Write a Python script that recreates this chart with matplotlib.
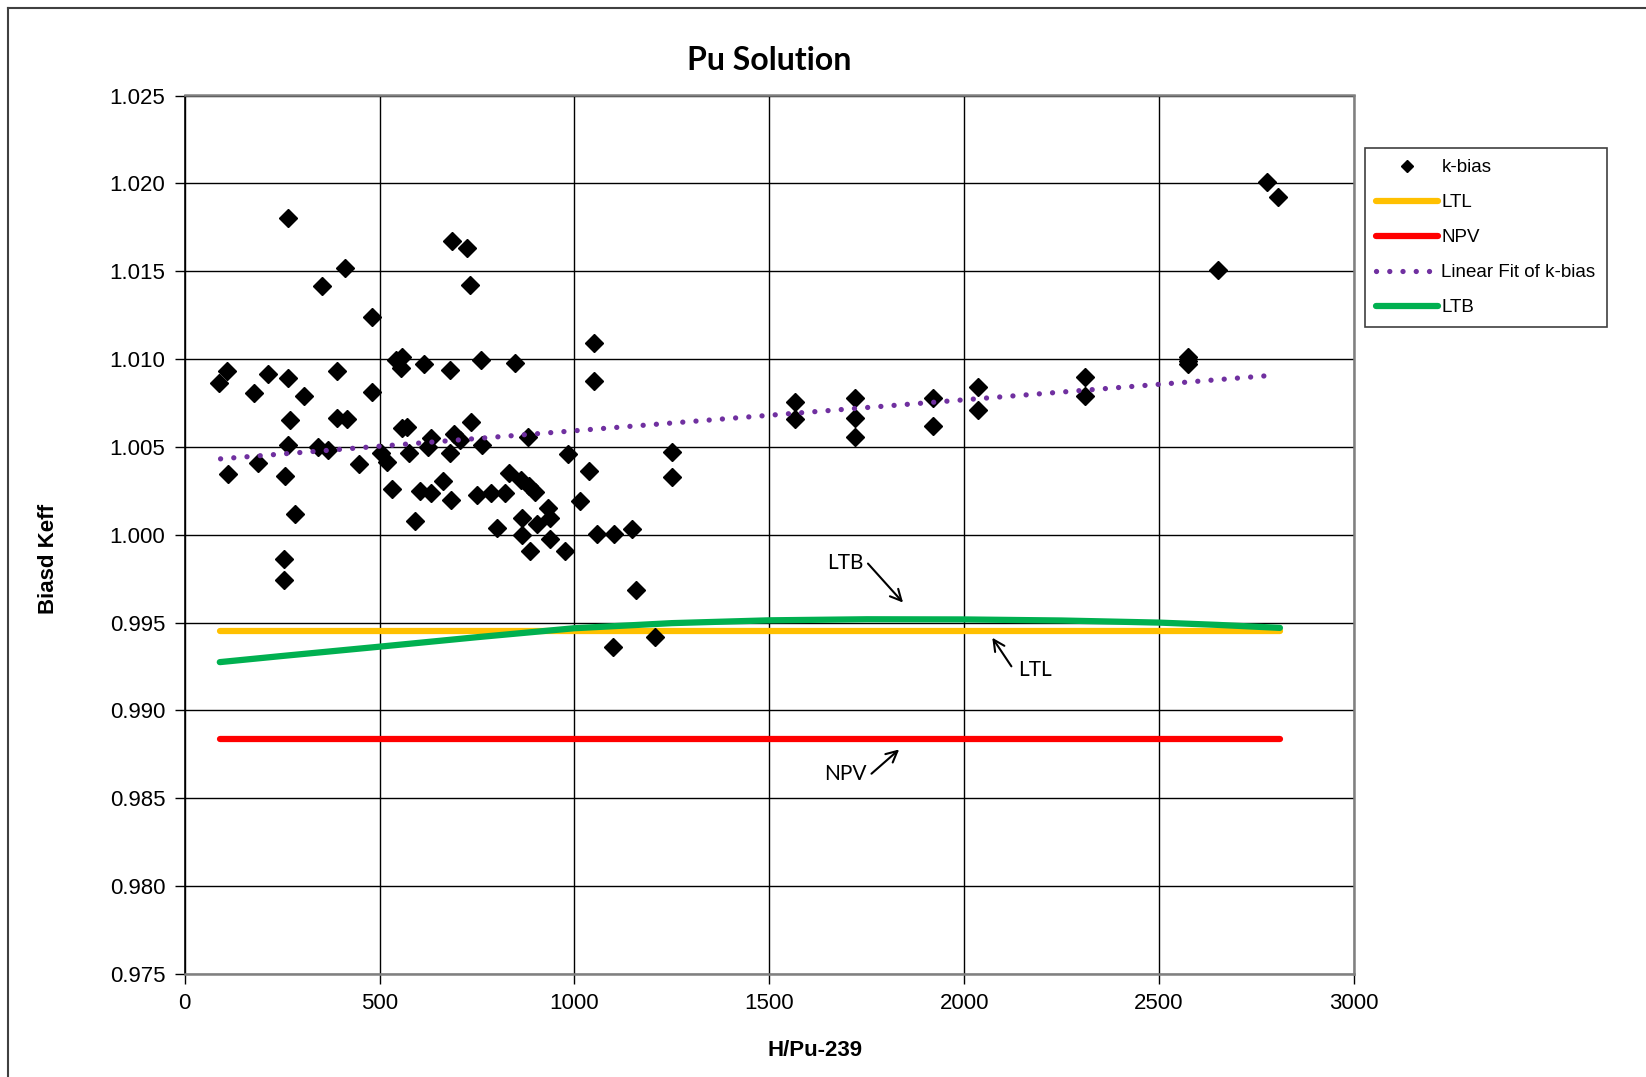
import matplotlib
matplotlib.use("Agg")
import matplotlib.pyplot as plt
from matplotlib.lines import Line2D
import numpy as np

# k-bias points (H/Pu-239, biased keff)
kb_x = [
    88, 108, 110, 177, 188, 213, 256, 256, 258, 264, 264, 264, 269, 283, 306,
    343, 353, 368, 390, 392, 411, 417, 448, 481, 481, 503, 520, 532, 542, 556,
    557, 558, 571, 575, 591, 603, 615, 625, 631, 631, 663, 680, 680, 684, 687,
    691, 706, 724, 732, 735, 751, 761, 763, 786, 802, 823, 831, 847, 863, 866,
    866, 880, 883, 887, 900, 904, 932, 936, 938, 975, 983, 1015, 1037, 1051,
    1051, 1058, 1100, 1101, 1148, 1157, 1206, 1249, 1249,
    1566, 1566, 1720, 1720, 1720, 1921, 1921, 2035, 2035, 2310, 2310,
    2574, 2574, 2574, 2650, 2778, 2804,
]
kb_y = [
    1.00862, 1.00934, 1.00347, 1.00807, 1.00406, 1.00913, 0.99864, 0.99745,
    1.00334, 1.01805, 1.00894, 1.00508, 1.00653, 1.00118, 1.00792,
    1.00498, 1.01415, 1.00483, 1.00934, 1.00662, 1.01521, 1.00657, 1.00403,
    1.01242, 1.00815, 1.00463, 1.00416, 1.00263, 1.00993, 1.00948,
    1.01012, 1.00610, 1.00613, 1.00463, 1.00078, 1.00248, 1.00970, 1.00502,
    1.00549, 1.00240, 1.00305, 1.00936, 1.00468, 1.00197, 1.01674,
    1.00575, 1.00542, 1.01631, 1.01422, 1.00644, 1.00225, 1.00992, 1.00509,
    1.00235, 1.00038, 1.00240, 1.00352, 1.00980, 1.00310, 1.00097,
    0.99996, 1.00555, 1.00278, 0.99905, 1.00243, 1.00063, 1.00154, 1.00097,
    0.99973, 0.99907, 1.00460, 1.00191, 1.00364, 1.01091,
    1.00873, 1.00004, 0.99360, 1.00004, 1.00035, 0.99687, 0.99416, 1.00470,
    1.00330,
    1.00753, 1.00656, 1.00781, 1.00662, 1.00557, 1.00781, 1.00618, 1.00842,
    1.00709, 1.00899, 1.00789,
    1.01010, 1.00990, 1.00970, 1.01504, 1.02010, 1.01924,
]

# limit lines
lim_x = [90, 2810]
ltl_y = [0.99455, 0.99455]
npv_y = [0.98837, 0.98837]

fit_x = [92, 2800]
fit_y = [1.00432, 1.00909]

ltb_x = [90, 250, 500, 750, 1000, 1250, 1500, 1750, 2000, 2250, 2500, 2650, 2810]
ltb_y = [0.99275, 0.99310, 0.99363, 0.99417, 0.99468, 0.99497, 0.99513,
         0.99519, 0.99518, 0.99512, 0.99500, 0.99487, 0.99470]

W, H = 1646, 1077
fig = plt.figure(figsize=(W / 100, H / 100), dpi=100)
ax = fig.add_axes([184.7 / W, 1 - 974 / H, (1354 - 184.7) / W, (974 - 95.5) / H])

c_ltl = "#FFC000"
c_npv = "#FF0000"
c_fit = "#7030A0"
c_ltb = "#00B050"

ax.plot(lim_x, ltl_y, color=c_ltl, lw=4.5, solid_capstyle="round", zorder=2)
ax.plot(lim_x, npv_y, color=c_npv, lw=4.5, solid_capstyle="round", zorder=2)
ax.plot(ltb_x, ltb_y, color=c_ltb, lw=4.5, solid_capstyle="round", zorder=2.1)
ax.plot(kb_x, kb_y, linestyle="none", marker="D", ms=9.3, color="black", zorder=3)
ax.plot(fit_x, fit_y, color=c_fit, lw=3.8, linestyle=(0, (0.01, 2.5)),
        dash_capstyle="round", zorder=4)

ax.set_xlim(0, 3000)
ax.set_ylim(0.975, 1.025)
ax.set_xticks(np.arange(0, 3001, 500))
ax.set_yticks(np.arange(0.975, 1.0251, 0.005))
ax.set_yticklabels([f"{v:.3f}" for v in np.arange(0.975, 1.0251, 0.005)])
ax.grid(True, color="black", lw=1.0)
ax.set_axisbelow(True)
ax.tick_params(labelsize=16, length=7, width=1, direction="out", pad=7)
for lab in ax.get_xticklabels() + ax.get_yticklabels():
    lab.set_family("Liberation Sans")
for side in ["top", "right", "bottom"]:
    ax.spines[side].set_color("#808080")
    ax.spines[side].set_linewidth(1.8)
ax.spines["left"].set_color("black")
ax.spines["left"].set_linewidth(1.2)

# annotations
ann_font = dict(family="Lato", fontsize=15, ha="center", va="center")
arrow = dict(arrowstyle="->", color="black", lw=1.5, mutation_scale=20,
             shrinkA=0, shrinkB=0)
ax.text(1694, 0.99839, "LTB", **ann_font)
ax.annotate("", xy=(1843, 0.99614), xytext=(1753, 0.99836), arrowprops=arrow)
ax.text(2181, 0.99228, "LTL", **ann_font)
ax.annotate("", xy=(2072, 0.99414), xytext=(2121, 0.99251), arrowprops=arrow)
ax.text(1696, 0.98640, "NPV", **ann_font)
ax.annotate("", xy=(1833, 0.98778), xytext=(1762, 0.98640), arrowprops=arrow)

fig.text(769 / W, 1 - 60 / H, "Pu Solution", family="Lato", fontweight="bold",
         fontsize=23, ha="center", va="center")
fig.text(815 / W, 1 - 1050 / H, "H/Pu-239", family="Liberation Sans",
         fontweight="bold", fontsize=16, ha="center", va="center")
fig.text(49 / W, 1 - 559 / H, "Biasd Keff", family="Liberation Sans",
         fontweight="bold", fontsize=16, ha="center", va="center", rotation=90)

handles = [
    Line2D([], [], linestyle="none", marker="D", ms=6, color="black"),
    Line2D([], [], color=c_ltl, lw=4.5, solid_capstyle="round"),
    Line2D([], [], color=c_npv, lw=4.5, solid_capstyle="round"),
    Line2D([], [], color=c_fit, lw=3.8, linestyle=(0, (0.01, 2.5)), dash_capstyle="round"),
    Line2D([], [], color=c_ltb, lw=4.5, solid_capstyle="round"),
]
labels = ["k-bias", "LTL", "NPV", "Linear Fit of k-bias", "LTB"]
leg = fig.legend(handles, labels, loc="upper left",
                 bbox_to_anchor=(1364.6 / W, 1 - 148 / H),
                 prop={"family": "Liberation Sans", "size": 13.5},
                 handlelength=3.3, handletextpad=0.2, labelspacing=0.95,
                 borderpad=0.6, fancybox=False, framealpha=1,
                 edgecolor="#404040", borderaxespad=0)
leg.get_frame().set_linewidth(1.2)

# chart area border (left and top edges visible in the crop)
fig.add_artist(Line2D([8 / W, 8 / W], [0, 1 - 8 / H], transform=fig.transFigure,
                      color="#404040", lw=1.5))
fig.add_artist(Line2D([8 / W, 1], [1 - 8 / H, 1 - 8 / H], transform=fig.transFigure,
                      color="#404040", lw=1.5))

fig.savefig("out.png", dpi=100)
